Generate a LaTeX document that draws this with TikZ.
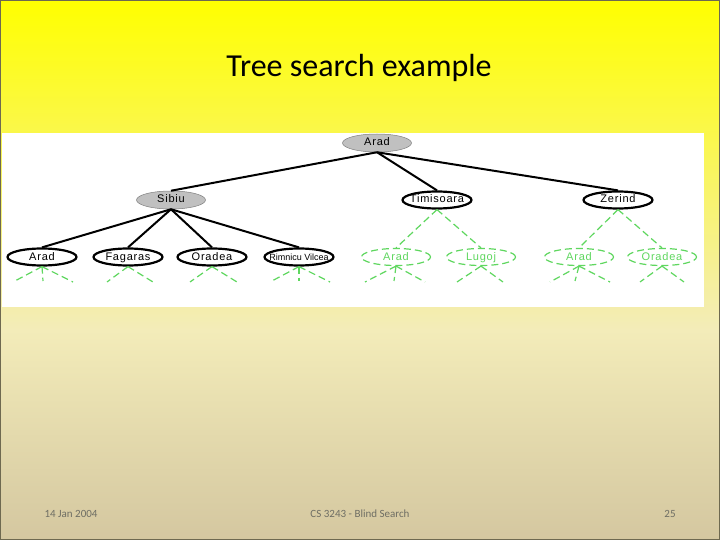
\documentclass[tikz,border=0pt]{standalone}
\usepackage{fontspec}
\usetikzlibrary{shapes.geometric}
\setmainfont{Carlito}
\newfontfamily\nodefont[LetterSpace=7]{Liberation Sans}
\newfontfamily\nodefontn{Liberation Sans}
\definecolor{bgtop}{RGB}{255,255,0}
\definecolor{bgmid}{RGB}{243,236,185}
\definecolor{bgbot}{RGB}{212,199,160}
\definecolor{framec}{RGB}{110,105,80}
\definecolor{nodegray}{RGB}{192,192,192}
\definecolor{lgreen}{RGB}{95,215,95}
\definecolor{footc}{RGB}{110,110,100}
\newcommand{\lbl}[1]{\makebox[48pt][c]{#1}}
\tikzset{
  nbase/.style={ellipse, minimum width=69pt, minimum height=17pt, inner sep=0pt, text height=8pt, text depth=2pt, font=\nodefont\fontsize{11}{13}\selectfont},
  expanded/.style={nbase, draw=gray, fill=nodegray, line width=0.5pt, minimum height=18pt},
  frontier/.style={nbase, draw=black, fill=white, line width=2.2pt},
  unseen/.style={nbase, draw=lgreen, text=lgreen, dash pattern=on 7pt off 4pt, line width=1.2pt},
  tedge/.style={draw=black, line width=2pt},
  gedge/.style={draw=lgreen, line width=1.2pt, dash pattern=on 7pt off 4pt},
  footer/.style={text=footc, font=\fontsize{11}{13}\selectfont}
}
\begin{document}
\begin{tikzpicture}[x=1pt,y=-1pt]
\useasboundingbox (0,0) rectangle (720,540);
\shade[top color=bgtop, bottom color=bgmid] (0,0) rectangle (720,330);
\shade[top color=bgmid, bottom color=bgbot] (0,329.5) rectangle (720,540);
\draw[framec, line width=1pt] (0.5,0.5) rectangle (719.5,539.5);
\fill[white] (2,133) rectangle (704,307);
\node[font=\fontsize{32}{38}\selectfont] (title) at (359,68) {Tree search example};
% tree
\node[expanded] (root) at (377,143) {\lbl{Arad}};
\node[expanded] (sib) at (171,200) {\lbl{Sibiu}};
\node[frontier] (tim) at (437,200) {\lbl{Timisoara}};
\node[frontier] (zer) at (618,200) {\lbl{Zerind}};
\node[frontier] (a1) at (42,257) {\lbl{Arad}};
\node[frontier] (fag) at (128,257) {\lbl{Fagaras}};
\node[frontier] (ora) at (212,257) {\lbl{Oradea}};
\node[frontier, font=\nodefontn\fontsize{9}{10}\selectfont] (rim) at (299,257) {\lbl{Rimnicu Vilcea}};
\node[unseen] (a2) at (396,257) {\lbl{Arad}};
\node[unseen] (lug) at (481,257) {\lbl{Lugoj}};
\node[unseen] (a3) at (579,257) {\lbl{Arad}};
\node[unseen] (ora2) at (662,257) {\lbl{Oradea}};
\draw[tedge] (root.south) -- (sib.north);
\draw[tedge] (root.south) -- (tim.north);
\draw[tedge] (root.south) -- (zer.north);
\draw[tedge] (sib.south) -- (a1.north);
\draw[tedge] (sib.south) -- (fag.north);
\draw[tedge] (sib.south) -- (ora.north);
\draw[tedge] (sib.south) -- (rim.north);
\draw[gedge] (tim.south) -- (a2.north);
\draw[gedge] (tim.south) -- (lug.north);
\draw[gedge] (zer.south) -- (a3.north);
\draw[gedge] (zer.south) -- (ora2.north);
% stubs
\coordinate (s1l) at (13,282); \coordinate (s1m) at (43,281); \coordinate (s1r) at (73,282);
\draw[gedge] (a1.south) -- (s1l); \draw[gedge] (a1.south) -- (s1m); \draw[gedge] (a1.south) -- (s1r);
\coordinate (s2l) at (107,282); \coordinate (s2r) at (153,282);
\draw[gedge] (fag.south) -- (s2l); \draw[gedge] (fag.south) -- (s2r);
\coordinate (s3l) at (190,282); \coordinate (s3r) at (237,282);
\draw[gedge] (ora.south) -- (s3l); \draw[gedge] (ora.south) -- (s3r);
\coordinate (s4l) at (270,282); \coordinate (s4m) at (299,281); \coordinate (s4r) at (330,282);
\draw[gedge] (rim.south) -- (s4l); \draw[gedge] (rim.south) -- (s4m); \draw[gedge] (rim.south) -- (s4r);
\coordinate (s5l) at (365,282); \coordinate (s5m) at (394,281); \coordinate (s5r) at (425,282);
\draw[gedge] (a2.south) -- (s5l); \draw[gedge] (a2.south) -- (s5m); \draw[gedge] (a2.south) -- (s5r);
\coordinate (s6l) at (457,282); \coordinate (s6r) at (503,282);
\draw[gedge] (lug.south) -- (s6l); \draw[gedge] (lug.south) -- (s6r);
\coordinate (s7l) at (550,282); \coordinate (s7m) at (575,281); \coordinate (s7r) at (610,282);
\draw[gedge] (a3.south) -- (s7l); \draw[gedge] (a3.south) -- (s7m); \draw[gedge] (a3.south) -- (s7r);
\coordinate (s8l) at (640,282); \coordinate (s8r) at (684,282);
\draw[gedge] (ora2.south) -- (s8l); \draw[gedge] (ora2.south) -- (s8r);
% footer
\node[footer] (date) at (71,514) {14 Jan 2004};
\node[footer] (course) at (360,514) {CS 3243 - Blind Search};
\node[footer] (page) at (670,514) {25};
\end{tikzpicture}
\end{document}
